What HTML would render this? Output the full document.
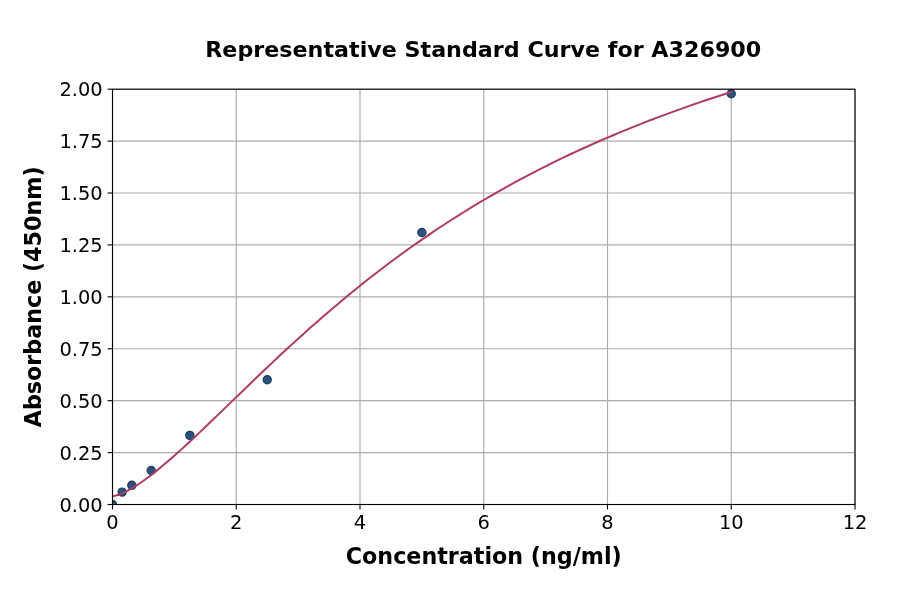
<!DOCTYPE html>
<html lang="en"><head><meta charset="utf-8"><title>Representative Standard Curve for A326900</title>
<style>
html,body{margin:0;padding:0;background:#fff;}
body{width:900px;height:594px;overflow:hidden;}
svg{display:block;}
text{font-family:"DejaVu Sans","Liberation Sans",sans-serif;fill:#000;}
.t{font-size:19.44px;}
.b{font-weight:bold;}
</style></head><body>
<svg width="900" height="594" viewBox="0 0 900 594">
<rect width="900" height="594" fill="#fff"/>
<defs><clipPath id="ax"><rect x="112.5" y="89.2" width="742.5" height="415.3"/></clipPath></defs>
<g stroke="#acacac" stroke-width="1.15" fill="none">
<line x1="112.50" y1="89.2" x2="112.50" y2="504.5"/>
<line x1="236.25" y1="89.2" x2="236.25" y2="504.5"/>
<line x1="360.00" y1="89.2" x2="360.00" y2="504.5"/>
<line x1="483.75" y1="89.2" x2="483.75" y2="504.5"/>
<line x1="607.50" y1="89.2" x2="607.50" y2="504.5"/>
<line x1="731.25" y1="89.2" x2="731.25" y2="504.5"/>
<line x1="855.00" y1="89.2" x2="855.00" y2="504.5"/>
<line x1="112.5" y1="504.50" x2="855.0" y2="504.50"/>
<line x1="112.5" y1="452.59" x2="855.0" y2="452.59"/>
<line x1="112.5" y1="400.68" x2="855.0" y2="400.68"/>
<line x1="112.5" y1="348.76" x2="855.0" y2="348.76"/>
<line x1="112.5" y1="296.85" x2="855.0" y2="296.85"/>
<line x1="112.5" y1="244.94" x2="855.0" y2="244.94"/>
<line x1="112.5" y1="193.02" x2="855.0" y2="193.02"/>
<line x1="112.5" y1="141.11" x2="855.0" y2="141.11"/>
<line x1="112.5" y1="89.20" x2="855.0" y2="89.20"/>
</g>
<g clip-path="url(#ax)">
<g fill="#2b527e" stroke="#1c3c5a" stroke-width="1.2">
<circle cx="112.50" cy="504.50" r="4.1"/>
<circle cx="122.15" cy="492.10" r="4.1"/>
<circle cx="131.81" cy="485.31" r="4.1"/>
<circle cx="151.17" cy="470.51" r="4.1"/>
<circle cx="189.84" cy="435.44" r="4.1"/>
<circle cx="267.19" cy="379.70" r="4.1"/>
<circle cx="421.88" cy="232.48" r="4.1"/>
<circle cx="731.25" cy="93.77" r="4.1"/>
</g>
<polyline points="112.50,496.39 118.69,494.81 124.88,492.13 131.06,488.80 137.25,484.96 143.44,480.74 149.62,476.19 155.81,471.37 162.00,466.32 168.19,461.07 174.38,455.66 180.56,450.12 186.75,444.46 192.94,438.71 199.12,432.88 205.31,427.00 211.50,421.07 217.69,415.10 223.88,409.12 230.06,403.13 236.25,397.14 242.44,391.16 248.63,385.19 254.81,379.24 261.00,373.33 267.19,367.45 273.38,361.61 279.56,355.81 285.75,350.07 291.94,344.37 298.12,338.73 304.31,333.14 310.50,327.62 316.69,322.16 322.88,316.76 329.06,311.42 335.25,306.15 341.44,300.95 347.62,295.82 353.81,290.75 360.00,285.75 366.19,280.82 372.38,275.97 378.56,271.18 384.75,266.46 390.94,261.81 397.13,257.22 403.31,252.71 409.50,248.27 415.69,243.89 421.88,239.58 428.06,235.33 434.25,231.16 440.44,227.04 446.63,222.99 452.81,219.01 459.00,215.09 465.19,211.23 471.38,207.43 477.56,203.69 483.75,200.01 489.94,196.39 496.12,192.83 502.31,189.32 508.50,185.87 514.69,182.48 520.88,179.14 527.06,175.85 533.25,172.62 539.44,169.43 545.62,166.30 551.81,163.22 558.00,160.19 564.19,157.20 570.38,154.27 576.56,151.38 582.75,148.53 588.94,145.73 595.12,142.97 601.31,140.26 607.50,137.59 613.69,134.96 619.88,132.38 626.06,129.83 632.25,127.32 638.44,124.85 644.62,122.42 650.81,120.03 657.00,117.67 663.19,115.35 669.38,113.07 675.56,110.82 681.75,108.60 687.94,106.42 694.12,104.27 700.31,102.15 706.50,100.06 712.69,98.01 718.88,95.98 725.06,93.99 731.25,92.02" fill="none" stroke="#b03a66" stroke-width="2.0" stroke-linecap="square" stroke-linejoin="round"/>
</g>
<g stroke="#000" stroke-width="1.1" fill="none">
<line x1="112.50" y1="504.5" x2="112.50" y2="509.4"/>
<line x1="236.25" y1="504.5" x2="236.25" y2="509.4"/>
<line x1="360.00" y1="504.5" x2="360.00" y2="509.4"/>
<line x1="483.75" y1="504.5" x2="483.75" y2="509.4"/>
<line x1="607.50" y1="504.5" x2="607.50" y2="509.4"/>
<line x1="731.25" y1="504.5" x2="731.25" y2="509.4"/>
<line x1="855.00" y1="504.5" x2="855.00" y2="509.4"/>
<line x1="107.6" y1="504.50" x2="112.5" y2="504.50"/>
<line x1="107.6" y1="452.59" x2="112.5" y2="452.59"/>
<line x1="107.6" y1="400.68" x2="112.5" y2="400.68"/>
<line x1="107.6" y1="348.76" x2="112.5" y2="348.76"/>
<line x1="107.6" y1="296.85" x2="112.5" y2="296.85"/>
<line x1="107.6" y1="244.94" x2="112.5" y2="244.94"/>
<line x1="107.6" y1="193.02" x2="112.5" y2="193.02"/>
<line x1="107.6" y1="141.11" x2="112.5" y2="141.11"/>
<line x1="107.6" y1="89.20" x2="112.5" y2="89.20"/>
<rect x="112.5" y="89.2" width="742.5" height="415.3"/>
</g>
<g class="t" text-anchor="middle">
<text x="112.50" y="529">0</text>
<text x="236.25" y="529">2</text>
<text x="360.00" y="529">4</text>
<text x="483.75" y="529">6</text>
<text x="607.50" y="529">8</text>
<text x="731.25" y="529">10</text>
<text x="855.00" y="529">12</text>
</g><g class="t" text-anchor="end">
<text x="102.7" y="511.50">0.00</text>
<text x="102.7" y="459.59">0.25</text>
<text x="102.7" y="407.68">0.50</text>
<text x="102.7" y="355.76">0.75</text>
<text x="102.7" y="303.85">1.00</text>
<text x="102.7" y="251.94">1.25</text>
<text x="102.7" y="200.02">1.50</text>
<text x="102.7" y="148.11">1.75</text>
<text x="102.7" y="96.20">2.00</text>
</g>
<text class="b" style="font-size:22.22px" text-anchor="middle" transform="translate(483.25,57) scale(1,0.988)">Representative Standard Curve for A326900</text>
<text class="b" style="font-size:22.22px" text-anchor="middle" x="483.75" y="563.7">Concentration (ng/ml)</text>
<text class="b" style="font-size:22.22px" text-anchor="middle" transform="translate(41.3,296.85) rotate(-90)">Absorbance (450nm)</text>
</svg></body></html>
